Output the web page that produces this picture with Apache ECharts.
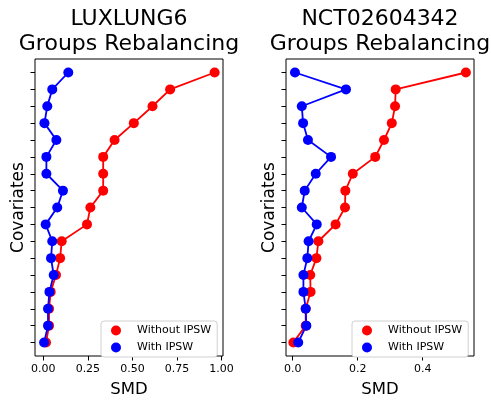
<!DOCTYPE html>
<html>
<head>
<meta charset="utf-8">
<script src="https://cdn.jsdelivr.net/npm/echarts@6/dist/echarts.min.js"></script>
<style>
  html, body { margin: 0; padding: 0; background: #fff; }
  #main { width: 491px; height: 403px; }
</style>
</head>
<body>
<div id="main"></div>
<script>
// covariates listed from top of the plot to bottom
var luxWithout = [0.962, 0.712, 0.613, 0.508, 0.400, 0.336, 0.336, 0.336, 0.264, 0.245, 0.103, 0.094, 0.071, 0.041, 0.032, 0.032, 0.015];
var luxWith    = [0.140, 0.050, 0.022, 0.006, 0.073, 0.017, 0.017, 0.110, 0.078, 0.013, 0.050, 0.043, 0.058, 0.034, 0.026, 0.026, 0.004];
var nctWithout = [0.533, 0.317, 0.315, 0.305, 0.281, 0.254, 0.185, 0.162, 0.161, 0.132, 0.079, 0.073, 0.054, 0.055, 0.040, 0.040, 0.002];
var nctWith    = [0.007, 0.164, 0.028, 0.032, 0.047, 0.118, 0.071, 0.037, 0.028, 0.074, 0.049, 0.045, 0.033, 0.033, 0.040, 0.042, 0.017];
var luxTicks = [0, 0.25, 0.5, 0.75, 1.0];
var nctTicks = [0, 0.2, 0.4];
var covTicks = [];
for (var k = 0; k < luxWithout.length; k++) covTicks.push(k);

var FONT = 'DejaVu Sans';

function pts(arr) {
  var n = arr.length;
  return arr.map(function (v, i) { return [v, n - 1 - i]; });
}

function xAxisFor(idx, min, max, ticks, digits) {
  return {
    type: 'value', gridIndex: idx, min: min, max: max,
    splitLine: { show: false },
    axisLine: { show: false, onZero: false },
    axisTick: { show: true, inside: false, length: 4.5, customValues: ticks, lineStyle: { color: '#000' } },
    axisLabel: {
      customValues: ticks, color: '#000', fontFamily: FONT, fontSize: 11, margin: 8,
      formatter: function (v) { return v.toFixed(digits); }
    },
    name: 'SMD', nameLocation: 'middle', nameGap: 25,
    nameTextStyle: { color: '#000', fontFamily: FONT, fontSize: 16.5 }
  };
}

function yAxisFor(idx) {
  return {
    type: 'value', gridIndex: idx, min: -0.8, max: covTicks.length - 1 + 0.8,
    splitLine: { show: false },
    axisLine: { show: false, onZero: false },
    axisTick: { show: true, inside: false, length: 4.5, customValues: covTicks, lineStyle: { color: '#000' } },
    axisLabel: { show: false },
    name: 'Covariates', nameLocation: 'middle', nameGap: 8,
    nameTextStyle: { color: '#000', fontFamily: FONT, fontSize: 17 }
  };
}

function lineSeries(name, color, data, idx) {
  return {
    name: name, type: 'line', xAxisIndex: idx, yAxisIndex: idx,
    data: pts(data), symbol: 'circle', symbolSize: 10,
    itemStyle: { color: color }, lineStyle: { color: color, width: 1.8 },
    animation: false
  };
}

function legendFor(left) {
  return {
    left: left, top: 321, orient: 'vertical',
    data: ['Without IPSW', 'With IPSW'],
    icon: 'circle', itemWidth: 32, itemHeight: 10, itemGap: 4,
    padding: [3, 6, 3, 10],
    borderColor: '#d0d0d0', borderWidth: 1, borderRadius: 3,
    backgroundColor: '#fff',
    textStyle: { color: '#000', fontFamily: FONT, fontSize: 11, lineHeight: 13 }
  };
}

var chart = echarts.init(document.getElementById('main'), null, { renderer: 'canvas' });
chart.setOption({
  backgroundColor: '#fff',
  animation: false,
  title: [
    { text: 'LUXLUNG6\nGroups Rebalancing', left: 129, top: 7, padding: 0, textAlign: 'center',
      textStyle: { color: '#000', fontFamily: FONT, fontSize: 22, fontWeight: 'normal', lineHeight: 25 } },
    { text: 'NCT02604342\nGroups Rebalancing', left: 380, top: 7, padding: 0, textAlign: 'center',
      textStyle: { color: '#000', fontFamily: FONT, fontSize: 22, fontWeight: 'normal', lineHeight: 25 } }
  ],
  legend: [legendFor(101), legendFor(352)],
  grid: [
    { left: 35, top: 59, width: 188, height: 304, show: true, borderColor: '#000', borderWidth: 1, backgroundColor: 'transparent' },
    { left: 286, top: 59, width: 188, height: 304, show: true, borderColor: '#000', borderWidth: 1, backgroundColor: 'transparent' }
  ],
  xAxis: [
    xAxisFor(0, -0.047, 1.009, luxTicks, 2),
    xAxisFor(1, -0.0206, 0.558, nctTicks, 1)
  ],
  yAxis: [yAxisFor(0), yAxisFor(1)],
  series: [
    lineSeries('Without IPSW', '#ff0000', luxWithout, 0),
    lineSeries('With IPSW', '#0000ff', luxWith, 0),
    lineSeries('Without IPSW', '#ff0000', nctWithout, 1),
    lineSeries('With IPSW', '#0000ff', nctWith, 1)
  ]
});
window.addEventListener('resize', chart.resize);
</script>
</body>
</html>
